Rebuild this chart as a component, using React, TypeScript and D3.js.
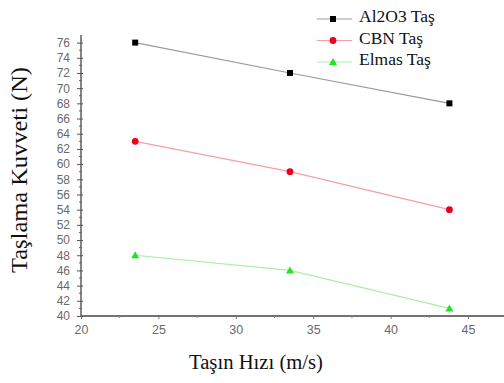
import React, { useRef, useEffect } from 'react';
import * as d3 from 'd3';

const speeds = [23.5, 33.5, 43.8];
const al2o3 = [76, 72, 68];
const cbn = [63, 59, 54];
const elmas = [48, 46, 41];
const seriesNames = ['Al2O3 Taş', 'CBN Taş', 'Elmas Taş'];
const yTicks = d3.range(40, 77, 2);
const xTicks = [20, 25, 30, 35, 40, 45];

const serif = "'Liberation Serif', 'Times New Roman', serif";
const sans = "'Liberation Sans', Arial, sans-serif";

interface Series {
	name: string;
	values: number[];
	color: string;
	lineColor: string;
	shape: 'square' | 'circle' | 'triangle';
}

const App: React.FC = () => {
	const svgRef = useRef<SVGSVGElement | null>(null);

	const width = 504;
	const height = 383;

	useEffect(() => {
		if (!svgRef.current) return;
		const svg = d3.select(svgRef.current);
		svg.selectAll('*').remove();

		const x = d3.scaleLinear().domain([20, 45]).range([81, 468]);
		const y = d3.scaleLinear().domain([40, 77]).range([316, 35]);

		const series: Series[] = [
			{ name: seriesNames[0], values: al2o3, color: '#000', lineColor: '#9a9a9a', shape: 'square' },
			{ name: seriesNames[1], values: cbn, color: '#e8001c', lineColor: '#f4a0a8', shape: 'circle' },
			{ name: seriesNames[2], values: elmas, color: '#1ee61e', lineColor: '#a8eea8', shape: 'triangle' },
		];

		// y-axis with minor ticks
		const yAxis = svg.append('g').attr('transform', `translate(${x(20)},0)`);
		yAxis.call(d3.axisLeft(y).tickValues(yTicks).tickSize(4).tickPadding(7).tickFormat(d3.format('d')))
			.attr('font-family', null)
			.style('font-family', sans)
			.attr('font-size', '12px')
			.call(g => g.selectAll('.tick text').attr('fill', '#6a6a6a'))
			.call(g => g.selectAll('.tick line').attr('stroke', '#555').attr('x2', 2).attr('x1', -4))
			.call(g => g.select('.domain').attr('stroke', '#444').attr('stroke-width', 1.3).attr('d', `M0,${y(40)}V${y(77)}`));
		yAxis.selectAll('.minor')
			.data(d3.range(41, 77, 2))
			.join('line')
			.attr('class', 'minor')
			.attr('x1', -2).attr('x2', 1)
			.attr('y1', d => y(d)).attr('y2', d => y(d))
			.attr('stroke', '#666');

		// x-axis
		const xAxis = svg.append('g').attr('transform', `translate(0,${y(40)})`);
		xAxis.call(d3.axisBottom(x).tickValues(xTicks).tickSize(3).tickPadding(6))
			.attr('font-family', null)
			.style('font-family', sans)
			.attr('font-size', '12.5px')
			.call(g => g.selectAll('.tick text').attr('fill', '#6a6a6a'))
			.call(g => g.selectAll('.tick line').attr('stroke', '#777'))
			.call(g => g.select('.domain').attr('stroke', '#444').attr('stroke-width', 1.3).attr('d', `M${x(20)},0H${width}`));
		xAxis.selectAll('.minor')
			.data([22.5, 27.5, 32.5, 37.5, 42.5, 47.5])
			.join('line')
			.attr('class', 'minor')
			.attr('x1', d => x(d)).attr('x2', d => x(d))
			.attr('y1', 0).attr('y2', 2)
			.attr('stroke', '#888');

		const drawMarker = (g: d3.Selection<SVGGElement, unknown, null, undefined>, s: Series, cx: number, cy: number) => {
			if (s.shape === 'square') {
				g.append('rect').attr('x', cx - 3).attr('y', cy - 3).attr('width', 6).attr('height', 6).attr('fill', s.color);
			} else if (s.shape === 'circle') {
				g.append('circle').attr('cx', cx).attr('cy', cy).attr('r', 3.4).attr('fill', s.color);
			} else {
				g.append('path').attr('d', `M${cx},${cy - 4}L${cx + 4},${cy + 3}L${cx - 4},${cy + 3}Z`).attr('fill', s.color);
			}
		};

		const line = d3.line<number>()
			.x((_, i) => x(speeds[i]))
			.y(d => y(d));

		series.forEach(s => {
			const g = svg.append('g');
			g.append('path')
				.attr('fill', 'none')
				.attr('stroke', s.lineColor)
				.attr('stroke-width', 1.2)
				.attr('d', line(s.values));
			s.values.forEach((v, i) => drawMarker(g, s, x(speeds[i]), y(v)));
		});

		// legend
		const legend = svg.append('g');
		series.forEach((s, i) => {
			const base = 22 + i * 21.5;
			const my = base - 3;
			const g = legend.append('g');
			g.append('line').attr('x1', 317).attr('x2', 352).attr('y1', my).attr('y2', my)
				.attr('stroke', s.lineColor).attr('stroke-width', 1.2);
			drawMarker(g, s, 333, my);
			g.append('text')
				.attr('x', 359).attr('y', base)
				.style('font-family', serif)
				.style('font-size', '17.5px')
				.attr('fill', '#111')
				.text(s.name);
		});

		// axis titles
		svg.append('text')
			.attr('transform', `translate(27,170) rotate(-90)`)
			.attr('text-anchor', 'middle')
			.style('font-family', serif)
			.style('font-size', '23px')
			.attr('textLength', 206)
			.attr('lengthAdjust', 'spacingAndGlyphs')
			.attr('fill', '#111')
			.text('Taşlama Kuvveti (N)');

		svg.append('text')
			.attr('x', 256).attr('y', 369)
			.attr('text-anchor', 'middle')
			.style('font-family', serif)
			.style('font-size', '20px')
			.attr('textLength', 134)
			.attr('lengthAdjust', 'spacingAndGlyphs')
			.attr('fill', '#111')
			.text('Taşın Hızı (m/s)');
	}, []);

	return (
		<svg
			ref={svgRef}
			width={width}
			height={height}
			style={{ position: 'absolute', left: 0, top: 0, background: '#fff' }}
		/>
	);
};

export default App;
